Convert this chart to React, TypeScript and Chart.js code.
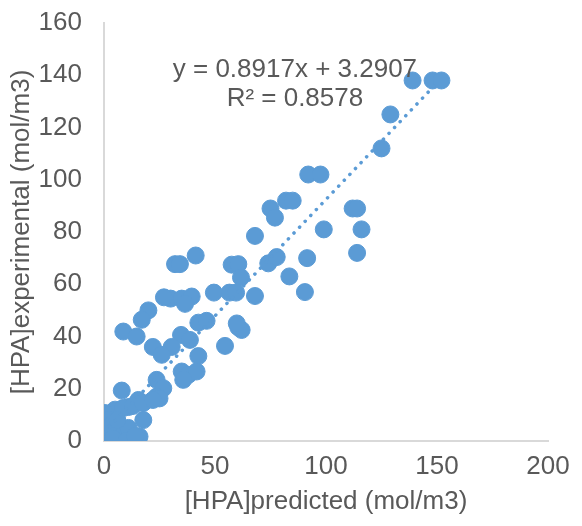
import React, { useEffect, useRef } from "react";
import { Chart, registerables } from "chart.js";

Chart.register(...registerables);

const xValues: number[] = [
  139, 148, 152, 129, 125, 92, 97.5, 112, 114, 116, 114, 99, 91.5, 83.5, 90.5,
  75, 77, 82, 85, 68, 41.3, 57.5, 60.5, 61.7, 74, 77.8, 49.5, 56.5, 59.5, 68,
  32, 34.2,
  30, 35, 39.5, 36.5, 27, 20, 17, 8.7, 14.7, 42.5, 46.2, 60.5, 62, 59.8, 34.7,
  38.7, 22, 30.5, 26, 54.5, 42.5, 35, 38, 41.7, 35.7, 23.7, 26.7, 23.7, 8,
  17.7, 15.5, 25, 11, 5, 0.5, 16,
  8.6, 13, 17.6, 22,
  0, 1, 2, 3, 4, 5, 6, 7, 8, 10, 12, 0, 1, 2, 0, 3, 9, 11, 13, 6, 4, 10, 14,
];
const yValues: number[] = [
  138, 138, 138, 125, 112, 102, 102, 89, 89, 81, 72, 81, 70, 63, 57,
  89, 85.5, 92, 92, 78.5, 71, 67.5, 67.7, 62.6, 68, 70.4, 56.8, 56.8, 56.8, 55.5,
  67.7, 67.7,
  54.5, 54.5, 55.3, 52.5, 55, 50, 46.4, 41.9, 40, 45.3, 46, 43.5, 42.5, 45, 40.6,
  38.7, 36, 36, 33, 36.4, 32.5, 26.6, 25.3, 26.6, 23.4, 23.4, 20.2, 17, 19.3,
  8, 15.7, 16.3, 13, 12, 10.7, 1.7,
  12.6, 13.4, 14.5, 15.7,
  0, 1, 3, 0, 5, 2, 0, 4, 1, 2, 1, 4, 7, 8, 2, 6, 3, 5, 1, 8, 1, 0, 2,
];

const slope = 0.8917;
const intercept = 3.2907;
const trendXRange: number[] = [0, 150];
const equationText = "y = 0.8917x + 3.2907";
const r2Text = "R² = 0.8578";

const xTicks: number[] = [0, 50, 100, 150, 200];
const yTicks: number[] = [0, 20, 40, 60, 80, 100, 120, 140, 160];

const xTitle = "[HPA]predicted (mol/m3)";
const yTitle = "[HPA]experimental (mol/m3)";

const BLUE = "#5B9BD5";
const TEXT = "#595959";
const AXIS = "#D9D9D9";
const FONT = "'Liberation Sans', Arial, sans-serif";

const equationPlugin = {
  id: "equationLabel",
  afterDatasetsDraw(chart: any) {
    const { ctx, scales } = chart;
    const x = scales.x.getPixelForValue(86);
    const y1 = scales.y.getPixelForValue(142);
    const y2 = scales.y.getPixelForValue(131);
    ctx.save();
    ctx.fillStyle = TEXT;
    ctx.font = `26px ${FONT}`;
    ctx.textAlign = "center";
    ctx.textBaseline = "middle";
    ctx.fillText(equationText, x, y1);
    ctx.fillText(r2Text, x, y2);
    ctx.restore();
  },
};

export default function App() {
  const ref = useRef<HTMLCanvasElement | null>(null);

  useEffect(() => {
    if (!ref.current) return;
    const points = xValues.map((x, i) => ({ x, y: yValues[i] }));
    const trend = trendXRange.map((x) => ({ x, y: slope * x + intercept }));
    const chart = new Chart(ref.current, {
      type: "scatter",
      data: {
        datasets: [
          {
            type: "line",
            data: trend,
            borderColor: BLUE,
            borderWidth: 3.5,
            borderDash: [0.1, 8],
            borderCapStyle: "round",
            pointRadius: 0,
            fill: false,
            order: 0,
          } as any,
          {
            data: points,
            backgroundColor: BLUE,
            borderColor: BLUE,
            pointRadius: 8.5,
            pointHoverRadius: 8.5,
            order: 1,
          },
        ],
      },
      options: {
        animation: false,
        responsive: false,
        events: [],
        layout: { padding: { top: 23, right: 34, left: 0, bottom: 0 } },
        plugins: {
          legend: { display: false },
          tooltip: { enabled: false },
          title: { display: false },
        },
        scales: {
          x: {
            type: "linear",
            min: 0,
            max: 200,
            afterBuildTicks: (s: any) => {
              s.ticks = xTicks.map((v) => ({ value: v }));
            },
            afterFit: (s: any) => {
              s.height = 85;
              s.paddingLeft = 0;
              s.paddingRight = 0;
            },
            grid: { display: false, drawTicks: false },
            border: { display: true, color: AXIS, width: 2 },
            ticks: {
              color: TEXT,
              font: { family: FONT, size: 26 },
              padding: 10,
              maxRotation: 0,
            },
            title: {
              display: true,
              text: xTitle,
              color: TEXT,
              font: { family: FONT, size: 26 },
              padding: { top: 0, bottom: 9 },
            },
          },
          y: {
            type: "linear",
            min: 0,
            max: 160,
            afterBuildTicks: (s: any) => {
              s.ticks = yTicks.map((v) => ({ value: v }));
            },
            afterFit: (s: any) => {
              s.width = 104;
              s.paddingTop = 0;
              s.paddingBottom = 0;
            },
            grid: { display: false, drawTicks: false },
            border: { display: true, color: AXIS, width: 2 },
            ticks: {
              color: TEXT,
              font: { family: FONT, size: 26 },
              padding: 22,
            },
            title: {
              display: true,
              text: yTitle,
              color: TEXT,
              font: { family: FONT, size: 26 },
              padding: { top: 6, bottom: 0 },
            },
          },
        },
      },
      plugins: [equationPlugin],
    });
    return () => chart.destroy();
  }, []);

  return (
    <div style={{ position: "fixed", left: 0, top: 0, width: 582, height: 526, background: "#fff" }}>
      <canvas ref={ref} width={582} height={526} style={{ width: 582, height: 526 }} />
    </div>
  );
}
